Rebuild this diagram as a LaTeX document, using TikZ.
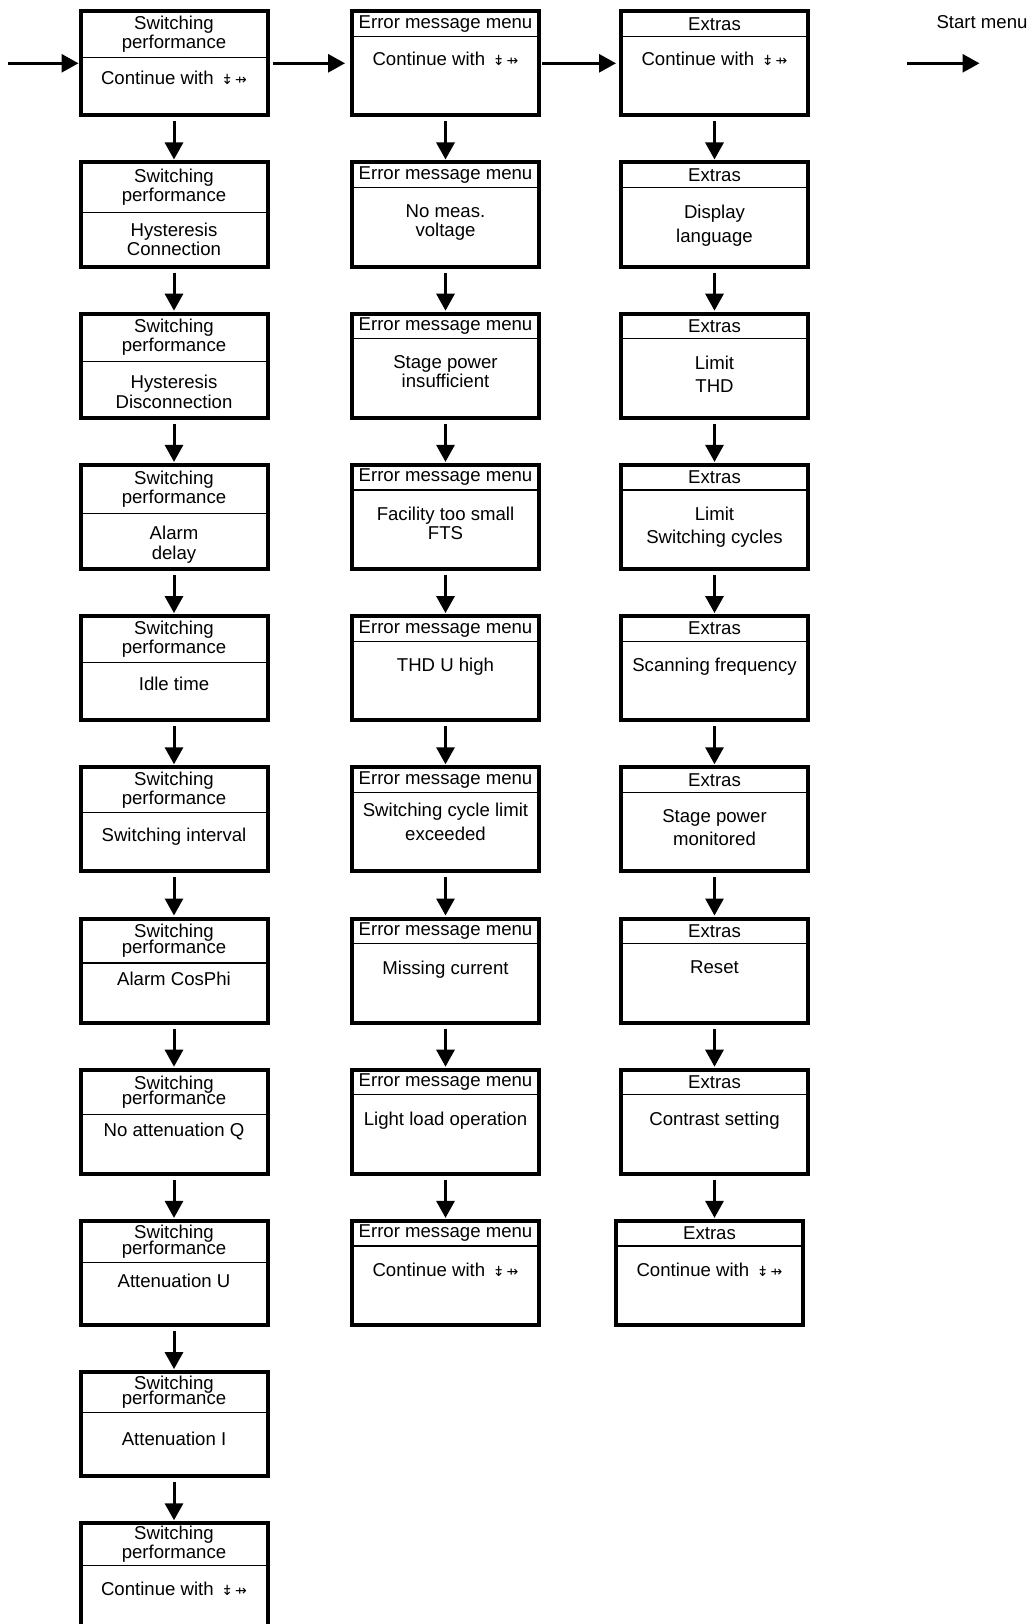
\documentclass[tikz,border=0pt]{standalone}
\usepackage{fontspec}
\setmainfont{Liberation Sans}
\newfontfamily\arrowfont{DejaVu Sans}
\usepackage{tikz}
\usetikzlibrary{arrows.meta}

\newcommand{\contwith}{Continue with\hspace{9pt}{\arrowfont\fontsize{14}{14}\selectfont\raisebox{1.5pt}{\rotatebox[origin=c]{-90}{⇸}}\hspace{5pt}⇸}}

% frame, header with divider, body text
\newcommand{\menubox}[6]{%
  \node[menuframe] (#1) at #2 {};
  \node[menuhead, minimum height=#3pt] (#1h) at (#1.north) {#4};
  \node[menutext] (#1t) at ([yshift=-#5pt]#1.north) {#6};
}

\tikzset{
  menuframe/.style={draw, line width=4pt, minimum width=187pt, minimum height=104pt, anchor=north, inner sep=0pt, outer sep=0pt},
  menuhead/.style={draw, line width=1.2pt, minimum width=187pt, anchor=north, inner sep=0pt, outer sep=0pt, align=center},
  menutext/.style={anchor=north, inner sep=0pt, align=center},
  flow/.style={-{Triangle[length=17pt,width=18pt]}, line width=3pt},
  flowdown/.style={flow, shorten <=6pt, shorten >=3pt},
}

\begin{document}
\begin{tikzpicture}[x=1pt, y=-1pt, font=\fontsize{18.6}{19}\selectfont]

\def\COLA{174}
\def\COLB{445.5}
\def\COLC{714.5}
\def\TOP{11.3}
\def\PITCH{151.2}

\useasboundingbox (0,0) rectangle (1031,1624);
\clip (0,0) rectangle (1031,1624);

% switching performance
\menubox{sp1}{(\COLA,\TOP+0*\PITCH)}{46}{Switching\\performance}{60}{\contwith}
\menubox{sp2}{(\COLA,\TOP+1*\PITCH)}{50}{Switching\\performance}{60}{Hysteresis\\[0.7pt]Connection}
\menubox{sp3}{(\COLA,\TOP+2*\PITCH)}{47.5}{Switching\\performance}{61}{Hysteresis\\[0.7pt]Disconnection}
\menubox{sp4}{(\COLA,\TOP+3*\PITCH)}{48.5}{Switching\\performance}{61}{Alarm\\[0.7pt]delay}
\menubox{sp5}{(\COLA,\TOP+4*\PITCH)}{46.5}{Switching\\performance}{61}{Idle time}
\menubox{sp6}{(\COLA,\TOP+5*\PITCH)}{45.5}{Switching\\performance}{61}{Switching interval}
\menubox{sp7}{(\COLA,\TOP+6*\PITCH)}{44.5}{Switching\\[-3.5pt]performance}{53}{Alarm CosPhi}
\menubox{sp8}{(\COLA,\TOP+7*\PITCH)}{44.5}{Switching\\[-3.5pt]performance}{53}{No attenuation Q}
\menubox{sp9}{(\COLA,\TOP+8*\PITCH)}{41.5}{Switching\\[-3.5pt]performance}{53}{Attenuation U}
\menubox{sp10}{(\COLA,\TOP+9*\PITCH)}{40.5}{Switching\\[-3.5pt]performance}{60}{Attenuation I}
\menubox{sp11}{(\COLA,\TOP+10*\PITCH)}{42.5}{Switching\\performance}{59}{\contwith}

% error message menu
\menubox{em1}{(\COLB,\TOP+0*\PITCH)}{25}{Error message menu}{41}{\contwith}
\menubox{em2}{(\COLB,\TOP+1*\PITCH)}{25}{Error message menu}{42}{No meas.\\voltage}
\menubox{em3}{(\COLB,\TOP+2*\PITCH)}{25}{Error message menu}{42}{Stage power\\insufficient}
\menubox{em4}{(\COLB,\TOP+3*\PITCH)}{25}{Error message menu}{42}{Facility too small\\FTS}
\menubox{em5}{(\COLB,\TOP+4*\PITCH)}{25}{Error message menu}{42}{THD U high}
\menubox{em6}{(\COLB,\TOP+5*\PITCH)}{25}{Error message menu}{36}{Switching cycle limit\\[5pt]exceeded}
\menubox{em7}{(\COLB,\TOP+6*\PITCH)}{25}{Error message menu}{42}{Missing current}
\menubox{em8}{(\COLB,\TOP+7*\PITCH)}{25}{Error message menu}{42}{Light load operation}
\menubox{em9}{(\COLB,\TOP+8*\PITCH)}{25}{Error message menu}{42}{\contwith}

% extras
\menubox{ex1}{(\COLC,\TOP+0*\PITCH)}{25}{Extras}{41}{\contwith}
\menubox{ex2}{(\COLC,\TOP+1*\PITCH)}{25}{Extras}{42}{Display\\[5pt]language}
\menubox{ex3}{(\COLC,\TOP+2*\PITCH)}{25}{Extras}{42}{Limit\\[4pt]THD}
\menubox{ex4}{(\COLC,\TOP+3*\PITCH)}{25}{Extras}{42}{Limit\\[4pt]Switching cycles}
\menubox{ex5}{(\COLC,\TOP+4*\PITCH)}{25}{Extras}{42}{Scanning frequency}
\menubox{ex6}{(\COLC,\TOP+5*\PITCH)}{25}{Extras}{42}{Stage power\\[4pt]monitored}
\menubox{ex7}{(\COLC,\TOP+6*\PITCH)}{25}{Extras}{42}{Reset}
\menubox{ex8}{(\COLC,\TOP+7*\PITCH)}{25}{Extras}{42}{Contrast setting}
\menubox{ex9}{(\COLC-5,\TOP+8*\PITCH)}{25}{Extras}{42}{\contwith}

% start menu
\node (startlbl) at (982,22) {Start menu};
\coordinate (entry) at (8,63.3);
\coordinate (smfrom) at (907,63.3);
\coordinate (smto) at (979.5,63.3);

% horizontal connectors
\draw[flow, shorten >=2pt] (entry) -- (sp1.west);
\draw[flow, shorten <=5pt, shorten >=7pt] (sp1.east) -- (em1.west);
\draw[flow, shorten <=3pt, shorten >=5pt] (em1.east) -- (ex1.west);
\draw[flow] (smfrom) -- (smto);

% vertical connectors
\draw[flowdown] (sp1.south) -- (sp2.north);
\draw[flowdown] (sp2.south) -- (sp3.north);
\draw[flowdown] (sp3.south) -- (sp4.north);
\draw[flowdown] (sp4.south) -- (sp5.north);
\draw[flowdown] (sp5.south) -- (sp6.north);
\draw[flowdown] (sp6.south) -- (sp7.north);
\draw[flowdown] (sp7.south) -- (sp8.north);
\draw[flowdown] (sp8.south) -- (sp9.north);
\draw[flowdown] (sp9.south) -- (sp10.north);
\draw[flowdown] (sp10.south) -- (sp11.north);

\draw[flowdown] (em1.south) -- (em2.north);
\draw[flowdown] (em2.south) -- (em3.north);
\draw[flowdown] (em3.south) -- (em4.north);
\draw[flowdown] (em4.south) -- (em5.north);
\draw[flowdown] (em5.south) -- (em6.north);
\draw[flowdown] (em6.south) -- (em7.north);
\draw[flowdown] (em7.south) -- (em8.north);
\draw[flowdown] (em8.south) -- (em9.north);

\draw[flowdown] (ex1.south) -- (ex2.north);
\draw[flowdown] (ex2.south) -- (ex3.north);
\draw[flowdown] (ex3.south) -- (ex4.north);
\draw[flowdown] (ex4.south) -- (ex5.north);
\draw[flowdown] (ex5.south) -- (ex6.north);
\draw[flowdown] (ex6.south) -- (ex7.north);
\draw[flowdown] (ex7.south) -- (ex8.north);
\draw[flowdown] (ex8.south) -- (ex8.south |- ex9.north);

\end{tikzpicture}
\end{document}
